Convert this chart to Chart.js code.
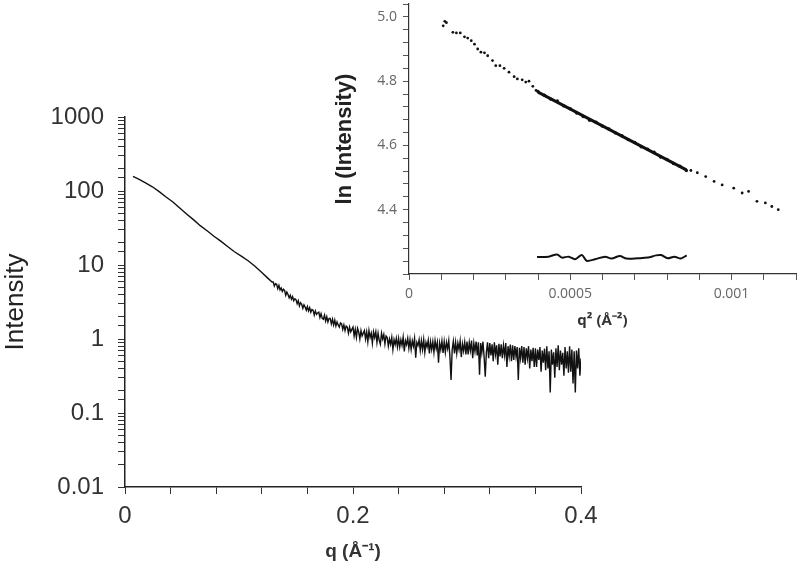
<!DOCTYPE html>
<html lang="en">
<head>
    <meta charset="UTF-8">
    <title>Scattering Intensity</title>
    <script src="https://cdn.jsdelivr.net/npm/chart.js"></script>
    <style>
        body {
            margin: 0;
            background: #ffffff;
        }
        .wrap {
            position: relative;
            width: 800px;
            height: 570px;
        }
        #mainChart {
            position: absolute;
            left: 0;
            top: 0;
        }
        #insetChart {
            position: absolute;
            left: 330px;
            top: 0;
        }
    </style>
</head>
<body>
    <div class="wrap">
        <canvas id="mainChart" width="800" height="570"></canvas>
        <canvas id="insetChart" width="470" height="340"></canvas>
    </div>

    <script>
        // main curve, smooth low-q part (q in 1/A, intensity)
        const smoothQ = [0.007, 0.012, 0.018, 0.024, 0.030, 0.036, 0.042, 0.048, 0.054, 0.060, 0.066,
                         0.072, 0.078, 0.084, 0.090, 0.096, 0.102, 0.108, 0.114, 0.120, 0.125, 0.129];
        const smoothI = [158, 145, 129, 114, 98, 83, 71, 59, 49, 41, 34,
                         29, 24.5, 21, 17.8, 15.1, 13.2, 11.4, 9.6, 7.9, 6.7, 5.9];

        // noisy part, one reading every 0.001 from q = 0.130 to 0.400
        const noisyStart = 0.130;
        const noisyStep = 0.001;
        const noisyI = [
            5.9, 5.2, 5.6, 5.5, 4.8, 5.3, 4.6, 4.9, 4.4, 4.7,
            4.5, 3.9, 4.3, 4.0, 3.6, 3.9, 3.45, 3.75, 3.3, 3.5,
            3.4, 3.0, 3.3, 2.8, 3.1, 2.95, 2.6, 2.9, 2.7, 2.45,
            2.75, 2.4, 2.65, 2.3, 2.5, 2.45, 2.1, 2.4, 2.15, 2.25,
            2.3, 1.95, 2.2, 1.9, 1.85, 2.1, 1.75, 2.0, 1.7, 1.9,
            1.9, 1.6, 1.85, 1.55, 1.8, 1.5, 1.7, 1.55, 1.45, 1.65,
            1.6, 1.35, 1.55, 1.3, 1.5, 1.45, 1.2, 1.45, 1.25, 1.35,
            1.45, 1.1, 1.35, 1.05, 1.4, 1.25, 1.0, 1.3, 1.1, 1.2,
            1.3, 1.0, 1.25, 0.92, 1.3, 1.05, 1.2, 0.88, 1.25, 1.05,
            1.25, 0.9, 1.2, 0.96, 0.85, 1.2, 1.0, 1.15, 0.86, 1.1,
            1.05, 0.8, 1.0, 0.85, 1.05, 0.72, 0.98, 0.84, 1.02, 0.78,
            1.02, 0.78, 0.98, 0.82, 1.06, 0.68, 0.95, 0.84, 1.02, 0.75,
            0.98, 0.72, 0.95, 0.8, 1.02, 0.56, 0.9, 0.82, 0.98, 0.7,
            0.95, 0.72, 0.98, 0.66, 0.9, 0.78, 0.96, 0.64, 0.92, 0.72,
            0.92, 0.66, 0.95, 0.74, 0.9, 0.48, 0.88, 0.72, 0.94, 0.65,
            0.92, 0.66, 0.9, 0.74, 0.95, 0.58, 0.28, 0.72, 0.93, 0.64,
            0.9, 0.64, 0.88, 0.72, 0.94, 0.57, 0.86, 0.69, 0.91, 0.62,
            0.92, 0.62, 0.9, 0.7, 0.95, 0.55, 0.88, 0.68, 0.92, 0.6,
            0.9, 0.33, 0.88, 0.65, 0.92, 0.58, 0.31, 0.66, 0.9, 0.55,
            0.88, 0.6, 0.85, 0.5, 0.9, 0.62, 0.82, 0.45, 0.86, 0.58,
            0.85, 0.55, 0.82, 0.6, 0.88, 0.42, 0.8, 0.58, 0.84, 0.5,
            0.82, 0.52, 0.8, 0.58, 0.78, 0.28, 0.76, 0.55, 0.8, 0.48,
            0.78, 0.45, 0.75, 0.55, 0.8, 0.4, 0.72, 0.5, 0.76, 0.42,
            0.75, 0.42, 0.72, 0.52, 0.78, 0.36, 0.7, 0.48, 0.74, 0.38,
            0.8, 0.4, 0.68, 0.19, 0.72, 0.45, 0.66, 0.3, 0.75, 0.42,
            0.82, 0.38, 0.7, 0.45, 0.65, 0.32, 0.78, 0.4, 0.68, 0.35,
            0.8, 0.36, 0.72, 0.25, 0.68, 0.19, 0.7, 0.4, 0.75, 0.32,
            0.55
        ];

        // inset: Guinier plot, points outside the fitted range
        const guinQ2 = [0.000106, 0.000111, 0.000116, 0.000136, 0.000147, 0.000159, 0.000172, 0.000182,
                        0.000193, 0.000203, 0.000213, 0.000223, 0.000234, 0.000244, 0.000259, 0.000269,
                        0.000282, 0.000295, 0.000310, 0.000326, 0.000336, 0.000351, 0.000362, 0.000372,
                        0.000384, 0.000394, 0.000874, 0.000894, 0.000920, 0.000946, 0.000971, 0.001007,
                        0.001033, 0.001053, 0.001079, 0.001105, 0.001125, 0.001145];
        const guinLnI = [4.972, 4.986, 4.982, 4.952, 4.950, 4.950, 4.938, 4.934,
                         4.926, 4.915, 4.900, 4.890, 4.888, 4.879, 4.864, 4.848,
                         4.848, 4.840, 4.828, 4.814, 4.807, 4.804, 4.797, 4.800,
                         4.784, 4.771, 4.522, 4.515, 4.503, 4.488, 4.477, 4.467,
                         4.452, 4.457, 4.426, 4.421, 4.410, 4.400];

        // points inside the fitted range
        const fitQ2 = [0.00040, 0.00042, 0.00044, 0.00046, 0.00048, 0.00050, 0.00052, 0.00054,
                       0.00056, 0.00058, 0.00060, 0.00062, 0.00064, 0.00066, 0.00068, 0.00070,
                       0.00072, 0.00074, 0.00076, 0.00078, 0.00080, 0.00082, 0.00084, 0.00086];
        const fitLnI = [4.768, 4.756, 4.744, 4.738, 4.723, 4.714, 4.701, 4.690,
                        4.678, 4.672, 4.660, 4.651, 4.639, 4.630, 4.618, 4.609,
                        4.596, 4.588, 4.579, 4.564, 4.556, 4.544, 4.535, 4.522];

        // straight Guinier fit
        const lineQ2 = [0.00040, 0.00086];
        const lineLnI = [4.766, 4.524];

        // residuals (drawn offset near the bottom of the inset)
        const residQ2 = [0.000397, 0.000433, 0.000459, 0.000474, 0.000495, 0.000515, 0.000536, 0.000551,
                         0.000577, 0.000608, 0.000628, 0.000654, 0.000674, 0.000710, 0.000741, 0.000766,
                         0.000782, 0.000802, 0.000823, 0.000843, 0.000861];
        const residLnI = [4.253, 4.254, 4.261, 4.251, 4.254, 4.246, 4.259, 4.241,
                          4.246, 4.254, 4.248, 4.256, 4.248, 4.249, 4.251, 4.258,
                          4.259, 4.249, 4.254, 4.248, 4.258];

        const mainXLabels = ['0', '0.2', '0.4'];
        const mainYLabels = ['0.01', '0.1', '1', '10', '100', '1000'];
        const insetXLabels = ['0', '0.0005', '0.001'];

        const pairs = (xs, ys) => xs.map((x, i) => ({ x: x, y: ys[i] }));

        const mainPoints = pairs(smoothQ, smoothI)
            .concat(noisyI.map((v, i) => ({ x: noisyStart + i * noisyStep, y: v })));

        const tickFont = { family: 'Liberation Sans, Arial, sans-serif', size: 24 };

        new Chart(document.getElementById('mainChart'), {
            type: 'line',
            data: {
                datasets: [{
                    data: mainPoints,
                    borderColor: '#111',
                    borderWidth: 1.4,
                    pointRadius: 0,
                    tension: 0
                }]
            },
            options: {
                responsive: false,
                animation: false,
                layout: { padding: { left: 0, top: 117, right: 219, bottom: 0 } },
                plugins: { legend: { display: false }, tooltip: { enabled: false } },
                scales: {
                    x: {
                        type: 'linear',
                        min: 0,
                        max: 0.4,
                        ticks: {
                            stepSize: 0.04,
                            autoSkip: false,
                            maxRotation: 0,
                            padding: 8,
                            color: '#333',
                            font: tickFont,
                            callback: (v) => {
                                const k = v / 0.2;
                                return Math.abs(k - Math.round(k)) < 1e-6 ? mainXLabels[Math.round(k)] : '';
                            }
                        },
                        grid: { drawOnChartArea: false, tickLength: 7, color: '#333' },
                        border: { color: '#222', width: 1.5 },
                        title: {
                            display: true,
                            text: 'q (Å⁻¹)',
                            color: '#333',
                            font: { family: 'Liberation Sans, Arial, sans-serif', size: 19, weight: 'bold' },
                            padding: { top: 0, bottom: 7 }
                        },
                        afterFit: (s) => { s.height = 83; }
                    },
                    y: {
                        type: 'logarithmic',
                        min: 0.01,
                        max: 1000,
                        ticks: {
                            autoSkip: false,
                            padding: 14,
                            color: '#333',
                            font: tickFont,
                            callback: (v) => {
                                const e = Math.log10(v);
                                return Math.abs(e - Math.round(e)) < 1e-6 ? mainYLabels[Math.round(e) + 2] : '';
                            }
                        },
                        grid: { drawOnChartArea: false, tickLength: 7, color: '#333' },
                        border: { color: '#222', width: 1.5 },
                        title: {
                            display: true,
                            text: 'Intensity',
                            color: '#222',
                            font: { family: 'Liberation Sans, Arial, sans-serif', size: 26 },
                            padding: { top: 0, bottom: 0 }
                        },
                        afterFit: (s) => { s.width = 125; }
                    }
                }
            }
        });

        const insetTickFont = { family: 'Open Sans, sans-serif', size: 14 };

        new Chart(document.getElementById('insetChart'), {
            type: 'scatter',
            data: {
                datasets: [
                    {
                        data: pairs(guinQ2, guinLnI),
                        pointRadius: 1.4,
                        pointBorderWidth: 0,
                        pointBackgroundColor: '#111',
                        showLine: false
                    },
                    {
                        data: pairs(fitQ2, fitLnI),
                        pointRadius: 1.7,
                        pointBorderWidth: 0,
                        pointBackgroundColor: '#111',
                        showLine: false
                    },
                    {
                        data: pairs(lineQ2, lineLnI),
                        borderColor: '#111',
                        borderWidth: 3,
                        pointRadius: 0,
                        showLine: true
                    },
                    {
                        data: pairs(residQ2, residLnI),
                        borderColor: '#111',
                        borderWidth: 2,
                        pointRadius: 0,
                        tension: 0.3,
                        showLine: true
                    }
                ]
            },
            options: {
                responsive: false,
                animation: false,
                layout: { padding: { left: 0, top: 3, right: 0, bottom: 0 } },
                plugins: { legend: { display: false }, tooltip: { enabled: false } },
                scales: {
                    x: {
                        type: 'linear',
                        min: 0,
                        max: 0.0012,
                        ticks: {
                            stepSize: 0.0001,
                            autoSkip: false,
                            maxRotation: 0,
                            padding: 6,
                            color: '#666',
                            font: insetTickFont,
                            callback: (v) => {
                                const k = v / 0.0005;
                                return Math.abs(k - Math.round(k)) < 1e-6 ? insetXLabels[Math.round(k)] : '';
                            }
                        },
                        grid: { drawOnChartArea: false, tickLength: 6, color: '#555' },
                        border: { color: '#333', width: 1.2 },
                        title: {
                            display: true,
                            text: 'q² (Å⁻²)',
                            color: '#333',
                            font: { family: 'Open Sans, sans-serif', size: 15, weight: 'bold' },
                            padding: { top: 0, bottom: 10 }
                        },
                        afterFit: (s) => { s.height = 66; s.paddingLeft = 0; s.paddingRight = 0; }
                    },
                    y: {
                        type: 'linear',
                        min: 4.2,
                        max: 5.04,
                        ticks: {
                            stepSize: 0.04,
                            autoSkip: false,
                            padding: 6,
                            color: '#666',
                            font: insetTickFont,
                            callback: (v) => {
                                const k = v * 5;
                                return (Math.abs(k - Math.round(k)) < 1e-6 && v > 4.3) ? v.toFixed(1) : '';
                            }
                        },
                        grid: { drawOnChartArea: false, tickLength: 6, color: '#555' },
                        border: { color: '#333', width: 1.2 },
                        title: {
                            display: true,
                            text: 'ln (Intensity)',
                            color: '#222',
                            font: { family: 'Liberation Sans, Arial, sans-serif', size: 22, weight: 'bold' },
                            padding: { top: 2, bottom: 0 }
                        },
                        afterFit: (s) => { s.width = 79; s.paddingTop = 0; s.paddingBottom = 0; }
                    }
                }
            }
        });
    </script>
</body>
</html>
